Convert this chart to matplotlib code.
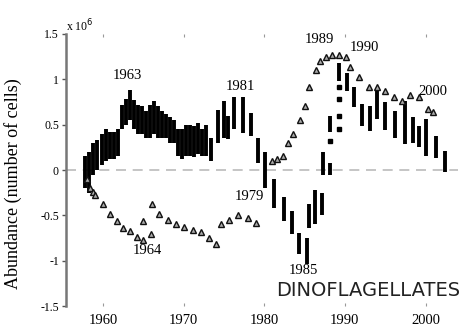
import numpy as np
import matplotlib.pyplot as plt

# barras negras (rango de valores por anio), unidades de 1e6 celulas
blk_year = [1957.8, 1958.3, 1958.8, 1959.3, 1959.9, 1960.4, 1960.9, 1961.4, 1961.9,
            1962.4, 1962.9, 1963.3, 1963.8, 1964.3, 1964.8, 1965.3, 1965.8, 1966.3,
            1966.8, 1967.3, 1967.8, 1968.3, 1968.8, 1969.3, 1969.8, 1970.3, 1970.8,
            1971.3, 1971.8, 1972.3, 1972.8, 1973.4, 1974.2, 1975.0, 1975.5, 1976.3,
            1977.4, 1978.4, 1979.25, 1980.1, 1981.2, 1982.4, 1983.4, 1984.25, 1985.25,
            1985.6, 1986.3, 1987.2, 1987.3, 1988.1, 1988.1, 1989.25, 1990.25, 1991.1,
            1992.1, 1993.1, 1994.0, 1995.0, 1996.25, 1997.4, 1998.4, 1999.25, 2000.0,
            2001.25, 2002.4]
blk_lo = [-0.2, -0.25, -0.05, 0.0, 0.05, 0.1, 0.12, 0.12, 0.15,
          0.45, 0.5, 0.55, 0.45, 0.4, 0.4, 0.35, 0.35, 0.4,
          0.35, 0.35, 0.35, 0.3, 0.3, 0.15, 0.12, 0.15, 0.15,
          0.14, 0.18, 0.15, 0.15, 0.1, 0.3, 0.35, 0.34, 0.45,
          0.41, 0.37, 0.08, -0.2, -0.42, -0.56, -0.7, -0.93, -1.04,
          -0.64, -0.6, -0.5, -0.05, -0.05, 0.42, 0.98, 0.87, 0.69,
          0.49, 0.43, 0.56, 0.44, 0.35, 0.29, 0.3, 0.25, 0.15,
          0.13, -0.02]
blk_hi = [0.15, 0.2, 0.3, 0.33, 0.4, 0.45, 0.42, 0.42, 0.45,
          0.72, 0.78, 0.88, 0.77, 0.72, 0.7, 0.65, 0.72, 0.76,
          0.7, 0.65, 0.62, 0.58, 0.55, 0.45, 0.45, 0.5, 0.5,
          0.48, 0.52, 0.45, 0.5, 0.35, 0.66, 0.76, 0.6, 0.8,
          0.8, 0.63, 0.35, 0.2, -0.1, -0.3, -0.45, -0.69, -0.75,
          -0.37, -0.22, -0.25, 0.2, 0.08, 0.6, 1.18, 1.07, 0.92,
          0.73, 0.71, 0.87, 0.75, 0.65, 0.76, 0.58, 0.49, 0.56,
          0.38, 0.21]

# puntos sueltos
dot_year = [1988.1, 1989.25, 1989.25, 1989.25, 1989.25]
dot_val = [0.32, 0.91, 0.78, 0.6, 0.45]

# serie de triangulos
tri_year = [1958.0, 1958.4, 1958.75, 1959.0, 1960.0, 1960.9, 1961.75, 1962.5, 1963.4,
            1964.25, 1965.0, 1965.0, 1965.9, 1966.1, 1966.9, 1968.0, 1969.0, 1970.0,
            1971.1, 1972.1, 1973.1, 1974.0, 1974.6, 1975.6, 1976.75, 1978.0, 1979.0,
            1981.0, 1981.6, 1982.3, 1983.0, 1983.6, 1984.4, 1985.0, 1985.6, 1986.4,
            1986.9, 1987.6, 1988.4, 1989.3, 1990.1, 1990.6, 1991.8, 1993.0, 1994.0,
            1995.0, 1996.1, 1997.1, 1998.1, 1999.25, 2000.25, 2000.9]
tri_val = [-0.1, -0.2, -0.24, -0.28, -0.38, -0.49, -0.56, -0.64, -0.67,
           -0.74, -0.77, -0.56, -0.7, -0.38, -0.49, -0.55, -0.6, -0.63,
           -0.66, -0.68, -0.75, -0.82, -0.6, -0.55, -0.5, -0.53, -0.58,
           0.1, 0.12, 0.15, 0.3, 0.4, 0.55, 0.7, 0.92, 1.1,
           1.2, 1.25, 1.27, 1.27, 1.25, 1.14, 1.02, 0.92, 0.92,
           0.87, 0.8, 0.76, 0.83, 0.8, 0.67, 0.64]

# etiquetas de anios
ann_text = ['1963', '1964', '1981', '1979', '1985', '1989', '1990', '2000']
ann_x = [1963.0, 1965.5, 1977.1, 1978.1, 1984.9, 1986.9, 1992.4, 2000.9]
ann_y = [1.04, -0.89, 0.92, -0.29, -1.11, 1.44, 1.35, 0.86]

xticks = [1960, 1970, 1980, 1990, 2000]
yticks = [-1.5, -1, -0.5, 0, 0.5, 1, 1.5]
ytick_labels = ['-1.5', '-1', '-0.5', '0', '0.5', '1', '1.5']

serif = 'Liberation Serif'

fig = plt.figure(figsize=(4.61, 3.26), dpi=100)
ax = fig.add_axes([0.143, 0.061, 0.85, 0.835])

ax.axhline(0, color='#bbbbbb', lw=1.2, ls=(0, (6, 4)), zorder=0)
ax.vlines(blk_year, blk_lo, blk_hi, color='black', lw=2.8, zorder=3)
ax.plot(dot_year, dot_val, 's', color='black', ms=3, zorder=3)
ax.plot(tri_year, tri_val, '^', mfc='#aaaaaa', mec='#111111', mew=1.0, ms=4.5,
        ls='none', zorder=4)

for t, x, y in zip(ann_text, ann_x, ann_y):
    ax.text(x, y, t, ha='center', va='center', fontsize=10.5, family=serif)

ax.set_xlim(1955.4, 2004)
ax.set_ylim(-1.5, 1.5)
ax.set_xticks(xticks)
ax.set_xticklabels([str(x) for x in xticks], family=serif, fontsize=10.5)
ax.set_yticks(yticks)
ax.set_yticklabels(ytick_labels, family=serif, fontsize=8.5)

for s in ['top', 'right', 'bottom']:
    ax.spines[s].set_visible(False)
ax.spines['left'].set_color('#777777')
ax.spines['left'].set_linewidth(1.8)
ax.tick_params(axis='y', colors='#555555', length=3, width=1, labelcolor='black', pad=2)
ax.tick_params(axis='x', top=True, direction='in', length=2, color='#999999', pad=6)

ax.set_ylabel('Abundance (number of cells)', family=serif, fontsize=13)
ax.yaxis.set_label_coords(-0.112, 0.449)
ax.text(0.0, 1.0, r'x 10$^6$', transform=ax.transAxes, family=serif, fontsize=8.5,
        ha='left', va='bottom')
ax.text(2004.3, -1.33, 'DINOFLAGELLATES', ha='right', va='center', fontsize=14,
        family='DejaVu Sans', color='#222222')

fig.savefig('out.png', dpi=100)
